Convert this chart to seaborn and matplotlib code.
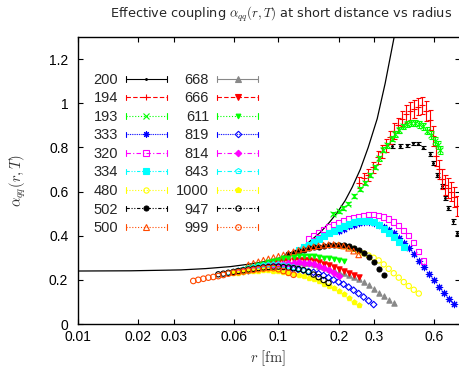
import numpy as np
import pandas as pd
import matplotlib
matplotlib.use("Agg")
import matplotlib.pyplot as plt
import seaborn as sns
from matplotlib.lines import Line2D
from matplotlib.legend_handler import HandlerBase

# ---------------- data ----------------
# common lattice distance grid (fm)
R = [0.0355, 0.0376, 0.0398, 0.0422, 0.0447, 0.0473, 0.0501, 0.0531, 0.0562, 0.0596,
     0.0631, 0.0668, 0.0708, 0.0750, 0.0794, 0.0841, 0.0891, 0.0944, 0.1000, 0.1059,
     0.1122, 0.1189, 0.1259, 0.1334, 0.1413, 0.1496, 0.1585, 0.1679, 0.1778, 0.1884,
     0.1995, 0.2113, 0.2239, 0.2371, 0.2512, 0.2661, 0.2818, 0.2985, 0.3162, 0.3350,
     0.3548, 0.3758, 0.3981, 0.4217, 0.4467, 0.4732, 0.5012, 0.5309, 0.5623, 0.5957,
     0.6310, 0.6683, 0.7079, 0.7499]

# perturbative curve
curve_r = [0.0100, 0.0184, 0.0326, 0.0434, 0.0577, 0.0726, 0.0842, 0.1023, 0.1147, 0.1243,
           0.1394, 0.1618, 0.1794, 0.1965, 0.2154, 0.2334, 0.2559, 0.2804, 0.3109, 0.3406,
           0.3777, 0.4046]
curve_a = [0.240, 0.241, 0.245, 0.251, 0.260, 0.272, 0.282, 0.300, 0.322, 0.337,
           0.365, 0.415, 0.460, 0.505, 0.560, 0.620, 0.700, 0.800, 0.930, 1.090,
           1.300, 1.460]

# sparse low-temperature series
r200 = [0.369, 0.405, 0.438, 0.470, 0.497, 0.526, 0.570, 0.590, 0.618, 0.655, 0.678, 0.701, 0.743, 0.778]
a200 = [0.806, 0.806, 0.809, 0.818, 0.817, 0.799, 0.768, 0.730, 0.677, 0.624, 0.571, 0.526, 0.465, 0.412]
e200 = [0.008, 0.008, 0.008, 0.008, 0.008, 0.008, 0.009, 0.009, 0.009, 0.010, 0.010, 0.010, 0.011, 0.011]

r194 = [0.253, 0.268, 0.280, 0.297, 0.315, 0.329, 0.345, 0.361, 0.378, 0.395, 0.414, 0.433, 0.454, 0.475,
        0.497, 0.520, 0.545, 0.570, 0.590, 0.611, 0.632, 0.655, 0.678, 0.701, 0.726, 0.751, 0.778]
a194 = [0.640, 0.660, 0.675, 0.710, 0.755, 0.780, 0.810, 0.845, 0.875, 0.900, 0.930, 0.950, 0.965, 0.975,
        0.985, 0.990, 0.965, 0.925, 0.850, 0.760, 0.700, 0.655, 0.630, 0.615, 0.600, 0.575, 0.535]
e194 = [0.025, 0.025, 0.025, 0.025, 0.030, 0.030, 0.030, 0.030, 0.035, 0.035, 0.035, 0.040, 0.040, 0.040,
        0.040, 0.040, 0.045, 0.045, 0.045, 0.045, 0.045, 0.045, 0.045, 0.045, 0.045, 0.045, 0.045]

r193 = [0.188, 0.200, 0.211, 0.223, 0.239, 0.256, 0.271, 0.287, 0.304, 0.318, 0.333, 0.349, 0.369,
        0.382, 0.400, 0.419, 0.438, 0.459, 0.481, 0.503, 0.526, 0.551, 0.577, 0.604, 0.625, 0.640]
a193 = [0.500, 0.510, 0.525, 0.545, 0.580, 0.610, 0.640, 0.675, 0.710, 0.750, 0.790, 0.810, 0.840,
        0.860, 0.880, 0.895, 0.905, 0.910, 0.910, 0.905, 0.895, 0.875, 0.855, 0.830, 0.810, 0.790]
e193 = [0.008, 0.008, 0.008, 0.008, 0.009, 0.009, 0.009, 0.010, 0.010, 0.010, 0.011, 0.011, 0.012,
        0.012, 0.013, 0.013, 0.014, 0.014, 0.015, 0.015, 0.016, 0.016, 0.017, 0.017, 0.018, 0.018]

# dense series: start index in R grid, alpha values
start333, a333 = 30, [0.420, 0.432, 0.442, 0.450, 0.456, 0.460, 0.460, 0.457, 0.450, 0.440, 0.427, 0.410,
                      0.390, 0.367, 0.342, 0.315, 0.287, 0.258, 0.228, 0.198, 0.168, 0.140, 0.113, 0.090]
start320, a320 = 24, [0.385, 0.400, 0.415, 0.428, 0.440, 0.450, 0.460, 0.468, 0.475, 0.482, 0.488, 0.493,
                      0.496, 0.496, 0.492, 0.485, 0.475, 0.462, 0.447, 0.425, 0.400, 0.370, 0.330, 0.285]
start334, a334 = 22, [0.335, 0.348, 0.360, 0.372, 0.385, 0.398, 0.410, 0.422, 0.435, 0.445, 0.455, 0.462,
                      0.467, 0.468, 0.466, 0.460, 0.448, 0.432, 0.413, 0.393, 0.372, 0.350]
start480, a480 = 30, [0.355, 0.352, 0.347, 0.340, 0.330, 0.320, 0.310, 0.300, 0.288, 0.270, 0.250, 0.230,
                      0.210, 0.190, 0.172, 0.155, 0.138]
start502, a502 = 20, [0.315, 0.322, 0.330, 0.336, 0.342, 0.347, 0.351, 0.354, 0.357, 0.359, 0.360, 0.357,
                      0.352, 0.345, 0.334, 0.320, 0.305, 0.280, 0.250, 0.222]
start500, a500 = 12, [0.268, 0.275, 0.282, 0.289, 0.295, 0.301, 0.307, 0.313, 0.320, 0.327, 0.334, 0.340,
                      0.345, 0.350, 0.354, 0.357, 0.359, 0.360, 0.358, 0.353, 0.343, 0.330, 0.313]
start668, a668 = 12, [0.245, 0.250, 0.255, 0.260, 0.265, 0.270, 0.274, 0.277, 0.279, 0.280, 0.280, 0.278,
                      0.275, 0.270, 0.264, 0.257, 0.250, 0.243, 0.236, 0.230, 0.222, 0.214, 0.205, 0.192,
                      0.175, 0.157, 0.140, 0.125, 0.110, 0.095]
start666, a666 = 10, [0.238, 0.243, 0.248, 0.253, 0.259, 0.264, 0.270, 0.275, 0.280, 0.284, 0.287, 0.289,
                      0.290, 0.290, 0.288, 0.284, 0.279, 0.273, 0.266, 0.259, 0.251, 0.242, 0.232, 0.222, 0.211]
start611, a611 = 10, [0.240, 0.246, 0.252, 0.258, 0.265, 0.272, 0.279, 0.286, 0.292, 0.297, 0.301, 0.304,
                      0.306, 0.307, 0.307, 0.306, 0.304, 0.301, 0.298, 0.294, 0.290, 0.285]
start819, a819 = 10, [0.235, 0.238, 0.241, 0.244, 0.247, 0.250, 0.252, 0.253, 0.253, 0.252, 0.250, 0.248,
                      0.245, 0.242, 0.238, 0.234, 0.228, 0.220, 0.210, 0.200, 0.190, 0.180, 0.167, 0.153,
                      0.138, 0.122, 0.105, 0.088]
start814, a814 = 10, [0.238, 0.242, 0.246, 0.250, 0.254, 0.258, 0.262, 0.266, 0.270, 0.273, 0.276, 0.278,
                      0.279, 0.278, 0.275, 0.270, 0.263, 0.254, 0.244, 0.232, 0.218]
start843, a843 = 8, [0.232, 0.237, 0.242, 0.247, 0.252, 0.257, 0.262, 0.266, 0.269, 0.270, 0.269, 0.266,
                     0.262, 0.257, 0.251, 0.244, 0.236]
start1000, a1000 = 9, [0.230, 0.233, 0.236, 0.238, 0.240, 0.242, 0.243, 0.243, 0.242, 0.240, 0.237, 0.233,
                       0.228, 0.223, 0.218, 0.210, 0.202, 0.193, 0.183, 0.173, 0.163, 0.150, 0.135, 0.118,
                       0.100, 0.085]
start947, a947 = 6, [0.225, 0.228, 0.232, 0.236, 0.240, 0.243, 0.247, 0.250, 0.253, 0.256, 0.258, 0.260,
                     0.260, 0.258, 0.256, 0.253, 0.249, 0.244, 0.235, 0.224, 0.212, 0.199, 0.186]
start999, a999 = 1, [0.195, 0.200, 0.205, 0.210, 0.213, 0.217, 0.222, 0.228, 0.232, 0.235, 0.238, 0.242,
                     0.245, 0.248, 0.251, 0.253, 0.253, 0.248, 0.240, 0.232, 0.223]

labels = ["200", "194", "193", "333", "320", "334", "480", "502", "500",
          "668", "666", "611", "819", "814", "843", "1000", "947", "999"]

# ---------------- styles ----------------
OR = "#ff4a00"
SOLID = "-"
DASH = (0, (4, 2))
DOT = (0, (1, 1.6))
DDOT = (0, (0.8, 0.8))
DASHDOT = (0, (4, 2, 1, 2))
DASHDD = (0, (3, 1.5, 1, 1.5, 1, 1.5))
# label: color, marker, filled, linestyle, size
STY = {
    "200": ("black", ".", True, SOLID, 2.5),
    "194": ("red", "+", True, DASH, 5.0),
    "193": ("#00ff00", "x", True, DOT, 4.2),
    "333": ("blue", (8, 2, 0), True, DDOT, 4.6),
    "320": ("magenta", "s", False, DASHDOT, 3.8),
    "334": ("cyan", "s", True, DASHDD, 3.8),
    "480": ("#ffff00", "o", False, DOT, 3.8),
    "502": ("black", "o", True, DASHDD, 3.6),
    "500": (OR, "^", False, DOT, 4.0),
    "668": ("#888888", "^", True, SOLID, 3.8),
    "666": ("red", "v", True, DASH, 3.8),
    "611": ("#00ff00", "v", True, DOT, 3.4),
    "819": ("blue", "D", False, DDOT, 3.3),
    "814": ("magenta", "D", True, DASHDOT, 3.3),
    "843": ("cyan", "p", False, DASHDOT, 3.8),
    "1000": ("#ffff00", "p", True, DOT, 3.8),
    "947": ("black", "o", False, DASHDD, 3.8),
    "999": (OR, "o", False, DOT, 4.0),
}

sns.set_style("ticks")
plt.rcParams["font.family"] = ["Liberation Sans", "DejaVu Sans"]
plt.rcParams["mathtext.fontset"] = "cm"

fig = plt.figure(figsize=(4.6, 3.68), dpi=100)
ax = fig.add_axes([78 / 460, 44 / 368, 381.5 / 460, 287 / 368])

# perturbative curve
sns.lineplot(x=curve_r, y=curve_a, ax=ax, color="black", lw=0.9, sort=False, legend=False)

dense = {
    "333": (start333, a333), "320": (start320, a320), "334": (start334, a334),
    "480": (start480, a480), "502": (start502, a502), "500": (start500, a500),
    "668": (start668, a668), "666": (start666, a666), "611": (start611, a611),
    "819": (start819, a819), "814": (start814, a814), "843": (start843, a843),
    "1000": (start1000, a1000), "947": (start947, a947), "999": (start999, a999),
}
sparse = {"200": (r200, a200, e200), "194": (r194, a194, e194), "193": (r193, a193, e193)}

z = 3
for lab in labels:
    col, mk, filled, ls, ms = STY[lab]
    if lab in sparse:
        rr, aa, ee = sparse[lab]
        ax.errorbar(rr, aa, yerr=ee, fmt="none", ecolor=col, elinewidth=0.8,
                    capsize=1.8, capthick=0.8, zorder=z,
                    linestyle=ls)
    else:
        st, aa = dense[lab]
        rr = R[st:st + len(aa)]
    df = pd.DataFrame({"r": rr, "alpha": aa})
    lw = 0.8
    if filled:
        sns.scatterplot(data=df, x="r", y="alpha", ax=ax, marker=mk, s=ms ** 2,
                        color=col, edgecolor=col, linewidth=lw, legend=False, zorder=z + 0.5)
    else:
        sns.scatterplot(data=df, x="r", y="alpha", ax=ax, marker=mk, s=ms ** 2,
                        color=col, facecolors="none", edgecolor=col, linewidth=lw,
                        legend=False, zorder=z + 0.5)
    z += 1

ax.set_xscale("log")
ax.set_xlim(0.01, 0.8)
ax.set_ylim(0, 1.3)
xt = [0.01, 0.02, 0.03, 0.06, 0.1, 0.2, 0.3, 0.6]
xtl = ["0.01", "0.02", "0.03", "0.06", "0.1", "0.2", "0.3", "0.6"]
ax.set_xticks(xt)
ax.set_xticklabels(xtl)
ax.xaxis.set_minor_locator(matplotlib.ticker.NullLocator())
yt = [0, 0.2, 0.4, 0.6, 0.8, 1.0, 1.2]
ytl = ["0", "0.2", "0.4", "0.6", "0.8", "1", "1.2"]
ax.set_yticks(yt)
ax.set_yticklabels(ytl)
ax.tick_params(axis="both", which="both", direction="in", top=True, right=True,
               length=3.5, width=0.8, labelsize=10, colors="black")
ax.tick_params(axis="y", pad=7)
ax.tick_params(axis="x", pad=4)
for sp in ax.spines.values():
    sp.set_visible(True)
    sp.set_linewidth(1.0)
    sp.set_color("black")
ax.set_xlabel("")
ax.set_ylabel("")

fig.text(281 / 460, 0.962, r"Effective coupling $\alpha_{qq}(r,T)$ at short distance vs radius",
         ha="center", va="center", fontsize=9.3, family=["DejaVu Sans"])
fig.text(268 / 460, 0.028, r"$r\ [\mathrm{fm}]$", ha="center", va="center", fontsize=10.5,
         color="#333333")
fig.text(0.038, 0.51, r"$\alpha_{qq}(r,T)$", ha="center", va="center", rotation=90,
         fontsize=10.5, color="#333333")


# legend with gnuplot-like samples
class Proxy:
    def __init__(self, lab):
        self.lab = lab


class ErrSample(HandlerBase):
    def create_artists(self, legend, orig, xd, yd, w, h, fs, trans):
        col, mk, filled, ls, ms = STY[orig.lab]
        y = h / 2 - yd
        x0, x1 = -xd, -xd + w
        arts = [Line2D([x0, x1], [y, y], color=col, lw=0.8, linestyle=ls),
                Line2D([x0, x0], [y - 2, y + 2], color=col, lw=0.8),
                Line2D([x1, x1], [y - 2, y + 2], color=col, lw=0.8),
                Line2D([(x0 + x1) / 2], [y], marker=mk, markersize=ms, linestyle="none",
                       mec=col, mfc=col if filled else "none", mew=0.8)]
        for a in arts:
            a.set_transform(trans)
        return arts


handles = [Proxy(l) for l in labels]
leg = ax.legend(handles, labels, handler_map={Proxy: ErrSample()}, ncol=2,
                markerfirst=False, frameon=False, loc="upper left",
                bbox_to_anchor=(0.04, 0.875), borderaxespad=0, borderpad=0,
                fontsize=10.5, handlelength=2.8, handletextpad=0.55,
                columnspacing=0.65, labelspacing=0.31)

fig.savefig("out.png", dpi=100)
